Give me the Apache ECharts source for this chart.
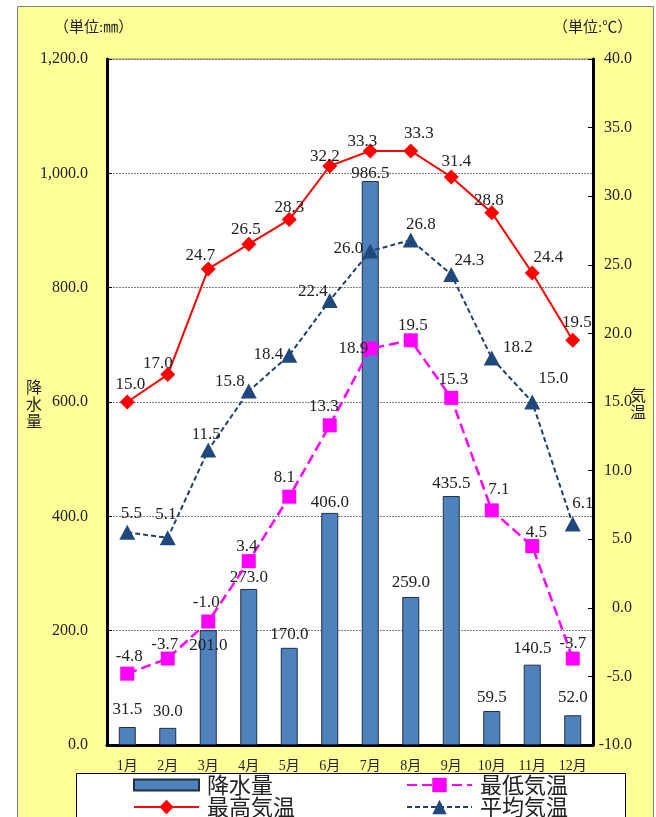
<!DOCTYPE html>
<html>
<head>
<meta charset="utf-8">
<script src="https://cdn.jsdelivr.net/npm/echarts@6/dist/echarts.min.js"></script>
<style>
html,body{margin:0;padding:0;background:#fff;}
#c{width:656px;height:817px;}
</style>
</head>
<body>
<div id="c"></div>
<script>
// ---- data ----
const months = ['1月','2月','3月','4月','5月','6月','7月','8月','9月','10月','11月','12月'];
const rain = [31.5, 30.0, 201.0, 273.0, 170.0, 406.0, 986.5, 259.0, 435.5, 59.5, 140.5, 52.0];
const tMax = [15.0, 17.0, 24.7, 26.5, 28.3, 32.2, 33.3, 33.3, 31.4, 28.8, 24.4, 19.5];
const tMin = [-4.8, -3.7, -1.0, 3.4, 8.1, 13.3, 18.9, 19.5, 15.3, 7.1, 4.5, -3.7];
const tAvg = [5.5, 5.1, 11.5, 15.8, 18.4, 22.4, 26.0, 26.8, 24.3, 18.2, 15.0, 6.1];
const leftTicks = {min: 0, max: 1200, interval: 200};
const rightTicks = {min: -10, max: 40, interval: 5};

// ---- label placement (style) ----
const rainLabelDy = [-17,-16,15,-11,-13,-10,-8,-14,-13,-13,-16,-18];
const maxLabelOff = [[3,-17],[-10,-11],[-8,-13],[-3,-15],[0,-12],[-5,-9],[-8,-9],[8,-17],[5,-15],[-3,-12],[16,-16],[4,-18]];
const minLabelOff = [[2,-17],[-3,-14],[-2,-19],[-2,-15],[-5,-19],[-6,-19],[-17,0],[2,-15],[2,-18],[7,-21],[4,-14],[0,-15]];
const avgLabelOff = [[4,-19],[-2,-23],[-2,-15],[-19,-9],[-21,-1],[-17,-9],[-22,-3],[10,-16],[18,-14],[26,-11],[21,-23],[10,-21]];

const FONT = "'Liberation Serif','Noto Sans CJK JP',serif";
const LFONT = 17;

function lineData(vals, offs){
  return vals.map((v,i)=>({value:v, label:{offset:offs[i]}}));
}
function barData(vals, dys){
  return vals.map((v,i)=>({value:v, label:{offset:[0, dys[i] + LFONT/2]}}));
}
const fmt1 = p => Number(p.value).toFixed(1);

function legendAt(name, left, top, icon, ih){
  const l = {data:[icon ? {name:name, icon:icon} : {name:name}], left:left, top:top, padding:0,
    itemWidth:65, itemHeight:ih, itemGap:0,
    textStyle:{fontSize:22, color:'#222', padding:[0,0,0,3], fontFamily:"'Noto Sans CJK JP',sans-serif"}};
  return l;
}

const chart = echarts.init(document.getElementById('c'), null, {renderer:'canvas'});
const option = {
  backgroundColor: '#fff',
  animation: false,
  textStyle: {fontFamily: FONT},
  graphic: [
    {type:'rect', z:-10, silent:true, shape:{x:17.5, y:6.5, width:636, height:830}, style:{fill:'#FFFF99', stroke:'#808080', lineWidth:1}},
    {type:'rect', z:-5, silent:true, shape:{x:76.5, y:773.5, width:549, height:60}, style:{fill:'#fff', stroke:'#000', lineWidth:1}},
    {type:'text', left:54, top:21, style:{text:'（単位:㎜）', font:"15px "+FONT, fill:'#222'}},
    {type:'text', left:553, top:21, style:{text:'（単位:℃）', font:"15px "+FONT, fill:'#222'}},
    {type:'text', left:26, top:380, style:{text:'降\n水\n量', font:"16px "+FONT, lineHeight:17, fill:'#222'}},
    {type:'text', left:630, top:388, style:{text:'気\n温', font:"16px "+FONT, lineHeight:17, fill:'#222'}}
  ],
  grid: {left:107, right:63, top:59, bottom:72, show:true, backgroundColor:'#fff', borderColor:'#808080', borderWidth:1},
  legend: [
    legendAt('降水量', 133, 774, 'rect', 11),
    legendAt('最低気温', 406, 774, null, 18),
    legendAt('最高気温', 133, 796, null, 18),
    legendAt('平均気温', 406, 796, null, 18)
  ],
  xAxis: {
    type:'category', data: months, boundaryGap:true,
    axisLine:{show:true, onZero:false, lineStyle:{color:'#000', width:3}},
    axisTick:{show:false},
    axisLabel:{fontSize:14, color:'#222', margin:14, interval:0, fontFamily:FONT}
  },
  yAxis: [
    {type:'value', position:'left', min:leftTicks.min, max:leftTicks.max, interval:leftTicks.interval,
     axisLine:{show:true, lineStyle:{color:'#000', width:3}},
     axisTick:{show:true, inside:true, length:5, lineStyle:{color:'#000'}},
     axisLabel:{fontSize:16, color:'#222', margin:19, fontFamily:FONT,
       formatter: v => v.toLocaleString('en-US',{minimumFractionDigits:1, maximumFractionDigits:1})},
     splitLine:{show:true, lineStyle:{color:'#7f7f7f', type:[2,1], width:1}}
    },
    {type:'value', position:'right', min:rightTicks.min, max:rightTicks.max, interval:rightTicks.interval,
     axisLine:{show:true, lineStyle:{color:'#000', width:3}},
     axisTick:{show:true, inside:true, length:5, lineStyle:{color:'#000'}},
     axisLabel:{fontSize:16, color:'#222', margin:39, align:'right', fontFamily:FONT,
       formatter: v => v.toFixed(1)},
     splitLine:{show:false}
    }
  ],
  series: [
    {name:'降水量', type:'bar', yAxisIndex:0, data: barData(rain, rainLabelDy), barWidth:17, z:2,
     itemStyle:{color:'#4F81BD', borderColor:'#1f2f45', borderWidth:1},
     label:{show:true, position:'top', distance:0, fontSize:LFONT, color:'#222', fontFamily:FONT, formatter:fmt1}
    },
    {name:'最高気温', type:'line', yAxisIndex:1, data: lineData(tMax, maxLabelOff), z:5,
     symbol:'diamond', symbolSize:15,
     lineStyle:{color:'#FF0000', width:2},
     itemStyle:{color:'#FF0000'},
     label:{show:true, position:'inside', fontSize:LFONT, color:'#222', fontFamily:FONT, formatter:fmt1}
    },
    {name:'最低気温', type:'line', yAxisIndex:1, data: lineData(tMin, minLabelOff), z:4,
     symbol:'rect', symbolSize:14,
     lineStyle:{color:'#FF00FF', width:2.5, type:[10,5]},
     itemStyle:{color:'#FF00FF'},
     label:{show:true, position:'inside', fontSize:LFONT, color:'#222', fontFamily:FONT, formatter:fmt1}
    },
    {name:'平均気温', type:'line', yAxisIndex:1, data: lineData(tAvg, avgLabelOff), z:4,
     symbol:'triangle', symbolSize:[16,15],
     lineStyle:{color:'#1F3F6E', width:2, type:[5,3]},
     itemStyle:{color:'#1F497D'},
     label:{show:true, position:'inside', fontSize:LFONT, color:'#222', fontFamily:FONT, formatter:fmt1}
    }
  ]
};
chart.setOption(option);
</script>
</body>
</html>
